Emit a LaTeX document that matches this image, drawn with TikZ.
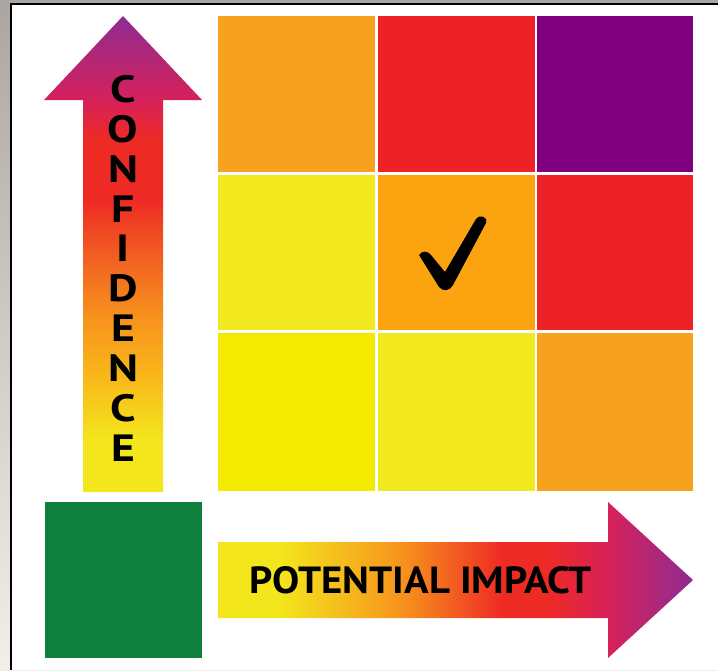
\documentclass[tikz,border=0pt]{standalone}
\usepackage{fontspec}
\setmainfont{PT Sans}
\usepackage{graphicx}
\definecolor{bgtop}{HTML}{ABA6A1}
\definecolor{bgbot}{HTML}{F2EFEA}
\definecolor{cOrange}{HTML}{F7A21F}
\definecolor{cAmber}{HTML}{FCA40F}
\definecolor{cRed}{HTML}{EC2227}
\definecolor{cPurple}{HTML}{800080}
\definecolor{cYellow}{HTML}{F2E81E}
\definecolor{cYellowB}{HTML}{F4EA00}
\definecolor{cGreen}{HTML}{0F7F3F}
\definecolor{gY}{HTML}{F3E61C}
\definecolor{gYO}{HTML}{F9B31A}
\definecolor{gO}{HTML}{F7941D}
\definecolor{gOR}{HTML}{F15A22}
\definecolor{gR}{HTML}{EE2A24}
\definecolor{gC}{HTML}{D6215B}
\definecolor{gP}{HTML}{8E2C91}
\pgfdeclareverticalshading{confshade}{100bp}{%
  color(0bp)=(gY); color(30.5bp)=(gY); color(37.8bp)=(gYO);
  color(43.1bp)=(gO); color(50.4bp)=(gOR); color(55.7bp)=(gR);
  color(62bp)=(gR); color(66.2bp)=(gC); color(75bp)=(gP); color(100bp)=(gP)}
\pgfdeclarehorizontalshading{impshade}{100bp}{%
  color(0bp)=(gY); color(31.5bp)=(gY); color(44.2bp)=(gO);
  color(55bp)=(gR); color(59.4bp)=(gR); color(66.3bp)=(gC);
  color(75bp)=(gP); color(100bp)=(gP)}
\tikzset{
  cell/.style={draw=none, inner sep=0pt, outer sep=0pt},
  vletter/.style={inner sep=0pt, font=\fontsize{38}{38}\selectfont\bfseries, text=black},
}
\begin{document}
\begin{tikzpicture}[x=1pt,y=-1pt]
\useasboundingbox (0,0) rectangle (718,670);
% background and frame
\shade[top color=bgtop, bottom color=bgbot] (0,0) rectangle (718,670);
\fill[white] (11,4) rectangle (718,670);
\draw[black, line width=1.8pt] (11,670) -- (11,4) -- (718,4);
% grid cells
\node[cell, fill=cOrange, minimum width=157pt, minimum height=156pt] (c11) at (296.5,94) {};
\node[cell, fill=cRed, minimum width=157pt, minimum height=156pt] (c12) at (456.5,94) {};
\node[cell, fill=cPurple, minimum width=156pt, minimum height=156pt] (c13) at (615,94) {};
\node[cell, fill=cYellow, minimum width=157pt, minimum height=155pt] (c21) at (296.5,252.5) {};
\node[cell, fill=cAmber, minimum width=157pt, minimum height=155pt] (c22) at (456.5,252.5) {};
\node[cell, fill=cRed, minimum width=156pt, minimum height=155pt] (c23) at (615,252.5) {};
\node[cell, fill=cYellowB, minimum width=157pt, minimum height=158pt] (c31) at (296.5,412) {};
\node[cell, fill=cYellow, minimum width=157pt, minimum height=158pt] (c32) at (456.5,412) {};
\node[cell, fill=cOrange, minimum width=156pt, minimum height=158pt] (c33) at (615,412) {};
% check mark (tapered)
\fill[black, line join=round]
  (419,255) .. controls (422,250) and (428,251) .. (431,255)
  -- (445,272) -- (476,219) .. controls (479,214) and (488,216) .. (486,223)
  -- (453,285) .. controls (450,291) and (443,292) .. (439,287) -- cycle;
% green square
\node[cell, fill=cGreen, minimum width=157pt, minimum height=156pt] (green) at (123.5,580) {};
% vertical arrow
\shade[shading=confshade]
  (83,492) -- (83,100) -- (44,100) -- (123,16) -- (202,100) -- (163,100) -- (163,492) -- cycle;
\foreach \ch [count=\i from 0] in {C,O,N,F,I,D,E,N,C,E} {
  \node[vletter] (l\i) at (123,{89+39.9*\i}) {\scalebox{1.2}[1]{\ch}};
}
% horizontal arrow
\shade[shading=impshade]
  (218,542) -- (608,542) -- (608,502) -- (693,580) -- (608,658) -- (608,618) -- (218,618) -- cycle;
\node[inner sep=0pt] (impact) at (421,580) {\resizebox{342pt}{27pt}{\bfseries POTENTIAL IMPACT}};
\end{tikzpicture}
\end{document}
